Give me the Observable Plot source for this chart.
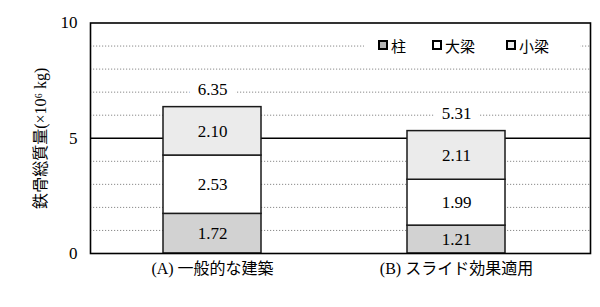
<!DOCTYPE html>
<html><head><meta charset="utf-8">
<script src="https://cdn.jsdelivr.net/npm/d3@7"></script>
<script src="https://cdn.jsdelivr.net/npm/@observablehq/plot@0.6"></script>
<style>
body{margin:0;background:#fff;}
#wrap{position:relative;width:600px;height:307px;}
#legend{position:absolute;left:364px;top:33px;width:216px;height:24px;background:#fff;font-family:'Noto Sans CJK JP',sans-serif;font-size:15px;color:#000;}
.item{position:absolute;top:0;height:24px;display:flex;align-items:center;white-space:nowrap;}
.sw{display:inline-block;width:6px;height:6px;border:2px solid #000;margin-right:3px;}
</style>
</head><body>
<div id="wrap"></div>
<script>
// data
const categories = ["(A) 一般的な建築", "(B) スライド効果適用"];
const seriesNames = ["柱", "大梁", "小梁"];
const seriesColors = ["#d2d2d2", "#ffffff", "#ebebeb"];
const values柱 = [1.72, 1.21];
const values大梁 = [2.53, 1.99];
const values小梁 = [2.10, 2.11];
const totals = [6.35, 5.31];
const yTicks = [0, 5, 10];
const minorGrid = [1, 2, 3, 4, 6, 7, 8, 9];
const majorGrid = [5];
const yLabel = "鉄骨総質量(×10⁶ kg)";

const seriesValues = [values柱, values大梁, values小梁];
const rows = [];
categories.forEach((c, i) => {
  seriesNames.forEach((s, j) => rows.push({cat: c, series: s, value: seriesValues[j][i]}));
});
const totalRows = categories.map((c, i) => ({cat: c, total: totals[i]}));
const fmt = d3.format(".2f");

const chart = Plot.plot({
  width: 600,
  height: 307,
  marginLeft: 90,
  marginRight: 10,
  marginTop: 22.5,
  marginBottom: 54,
  style: {fontFamily: "'Liberation Serif','Noto Sans CJK JP',serif", fontSize: "17px", color: "#000", background: "#fff"},
  x: {type: "band", domain: categories, range: [90, 578], paddingInner: 0.6, paddingOuter: 0.3},
  y: {domain: [0, 10]},
  color: {domain: seriesNames, range: seriesColors},
  marks: [
    Plot.ruleY(minorGrid, {stroke: "#8a8a8a", strokeWidth: 1, strokeDasharray: "1.2,1.8"}),
    Plot.ruleY(majorGrid, {stroke: "#000", strokeWidth: 1.3}),
    Plot.barY(rows, {x: "cat", y: "value", fill: "series", stroke: "#1a1a1a", strokeWidth: 1.5, order: seriesNames}),
    Plot.text(rows, Plot.stackY({x: "cat", y: "value", z: "series", order: seriesNames, text: d => fmt(d.value), fill: "#000", fontSize: 17})),
    Plot.text(totalRows, {x: "cat", y: "total", text: d => fmt(d.total), dy: -18, fill: "#000", stroke: "#fff", strokeWidth: 18, fontSize: 17}),
    Plot.axisY({ticks: yTicks, tickSize: 0, tickPadding: 13, fontSize: 17, label: null}),
    Plot.axisY({ticks: [], tickSize: 0, fontSize: 16, label: yLabel, labelAnchor: "center", labelArrow: "none", labelOffset: 56}),
    Plot.axisX({tickSize: 0, tickPadding: 9, fontSize: 16, label: null}),
    Plot.frame({stroke: "#000", strokeWidth: 1.6})
  ]
});
const wrap = document.getElementById("wrap");
wrap.appendChild(chart);

// legend
const legend = document.createElement("div");
legend.id = "legend";
const offsets = [14, 68, 142];
seriesNames.forEach((s, i) => {
  const it = document.createElement("div");
  it.className = "item";
  it.style.left = offsets[i] + "px";
  const sw = document.createElement("span");
  sw.className = "sw";
  sw.style.background = i === 0 ? "#b4b4b4" : seriesColors[i];
  it.appendChild(sw);
  it.appendChild(document.createTextNode(s));
  legend.appendChild(it);
});
wrap.appendChild(legend);
</script>
</body></html>
